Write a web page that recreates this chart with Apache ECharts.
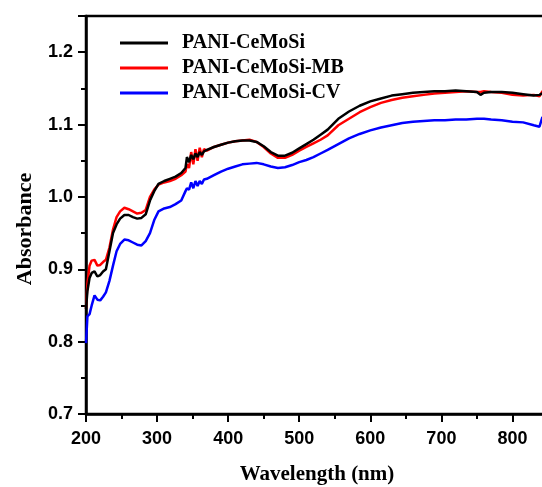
<!DOCTYPE html>
<html>
<head>
<meta charset="utf-8">
<script src="https://cdn.jsdelivr.net/npm/echarts@6/dist/echarts.min.js"></script>
<style>
html,body{margin:0;padding:0;background:#fff;}
#c{width:542px;height:487px;}
</style>
</head>
<body>
<div id="c"></div>
<script>
var seriesNames = ['PANI-CeMoSi', 'PANI-CeMoSi-MB', 'PANI-CeMoSi-CV'];
var seriesColors = ['#000000', '#ff0000', '#0000ff'];

var wavelengths = [200,202,205,208,212,216,220,224,228,233,238,243,248,254,260,266,272,278,284,290,296,302,310,318,326,334,340,342,345,348,351,354,357,360,363,366,370,380,390,400,410,420,430,440,450,460,470,480,490,500,510,520,530,540,555,570,585,600,615,630,645,660,675,690,705,720,735,750,755,760,770,785,800,815,830,838,842,850];

var absCeMoSi = [0.845,0.870,0.888,0.895,0.897,0.890,0.892,0.897,0.900,0.925,0.950,0.962,0.970,0.975,0.975,0.972,0.970,0.971,0.976,0.995,1.008,1.018,1.022,1.025,1.028,1.033,1.040,1.055,1.048,1.058,1.052,1.060,1.055,1.062,1.058,1.063,1.065,1.069,1.072,1.075,1.077,1.078,1.078,1.076,1.070,1.062,1.057,1.057,1.061,1.067,1.073,1.079,1.086,1.093,1.108,1.118,1.126,1.132,1.136,1.140,1.142,1.144,1.145,1.146,1.146,1.147,1.146,1.145,1.141,1.144,1.145,1.145,1.144,1.142,1.140,1.141,1.143,1.142];

var absMB = [0.846,0.880,0.905,0.912,0.913,0.905,0.906,0.910,0.913,0.930,0.955,0.972,0.980,0.985,0.983,0.980,0.977,0.978,0.982,1.000,1.010,1.017,1.020,1.022,1.025,1.030,1.035,1.045,1.040,1.062,1.045,1.066,1.050,1.068,1.055,1.066,1.064,1.069,1.072,1.075,1.077,1.078,1.079,1.076,1.069,1.060,1.054,1.054,1.058,1.064,1.069,1.074,1.079,1.085,1.099,1.108,1.117,1.124,1.130,1.134,1.137,1.139,1.141,1.143,1.144,1.145,1.146,1.145,1.145,1.146,1.145,1.144,1.141,1.140,1.141,1.139,1.146,1.145];

var absCV = [0.798,0.835,0.838,0.850,0.864,0.858,0.857,0.862,0.868,0.884,0.905,0.925,0.935,0.941,0.940,0.937,0.934,0.933,0.939,0.950,0.968,0.980,0.984,0.986,0.990,0.995,1.008,1.012,1.010,1.020,1.012,1.022,1.015,1.022,1.018,1.024,1.025,1.030,1.035,1.039,1.042,1.045,1.046,1.047,1.045,1.042,1.040,1.041,1.044,1.048,1.051,1.055,1.060,1.065,1.073,1.081,1.087,1.092,1.096,1.099,1.102,1.104,1.105,1.106,1.106,1.107,1.107,1.108,1.108,1.108,1.107,1.106,1.104,1.103,1.099,1.097,1.110,1.110];

var xTicks = [200,300,400,500,600,700,800];
var yTicks = [0.7,0.8,0.9,1.0,1.1,1.2];

function pairs(ys){ return wavelengths.map(function(w,i){ return [w, ys[i]]; }); }
var allData = [absCeMoSi, absMB, absCV];

var chart = echarts.init(document.getElementById('c'), null, {renderer:'canvas'});
var tickFont = {fontFamily:'"Liberation Sans", Arial, sans-serif', fontWeight:'bold', fontSize:18, color:'#000'};

chart.setOption({
  animation:false,
  backgroundColor:'#ffffff',
  grid:{left:86, top:16, right:-6, bottom:73, containLabel:false, outerBoundsMode:'none', show:true, borderColor:'#000', borderWidth:2.5, backgroundColor:'transparent'},
  legend:{
    show:true, orient:'vertical', left:115, top:28, itemWidth:48, itemHeight:14, itemGap:5,
    icon:'path://M0,6 L48,6 L48,9 L0,9 Z',
    textStyle:{fontFamily:'"Liberation Serif","Times New Roman",serif', fontWeight:'bold', fontSize:20, color:'#000', padding:[0,0,0,9]},
    data: seriesNames
  },
  xAxis:{
    type:'value', min:200, max:850, interval:100,
    axisLine:{show:true, onZero:false, lineStyle:{color:'#000', width:2.5}},
    axisTick:{show:true, inside:false, length:8, lineStyle:{color:'#000', width:2}},
    minorTick:{show:true, splitNumber:2, length:5, lineStyle:{color:'#000', width:2}},
    splitLine:{show:false},
    axisLabel:Object.assign({margin:16, showMaxLabel:false, formatter:function(v){ return xTicks.indexOf(v)>=0 ? String(v) : ''; }}, tickFont),
    name:'Wavelength (nm)', nameLocation:'middle', nameGap:50,
    nameTextStyle:{fontFamily:'"Liberation Serif","Times New Roman",serif', fontWeight:'bold', fontSize:21, color:'#000'}
  },
  yAxis:{
    type:'value', min:0.7, max:1.25, interval:0.1,
    axisLine:{show:true, onZero:false, lineStyle:{color:'#000', width:2.5}},
    axisTick:{show:true, inside:false, length:8, lineStyle:{color:'#000', width:2}},
    minorTick:{show:true, splitNumber:2, length:5, lineStyle:{color:'#000', width:2}},
    splitLine:{show:false},
    axisLabel:Object.assign({margin:13, showMaxLabel:false, formatter:function(v){
      for (var i=0;i<yTicks.length;i++){ if (Math.abs(v-yTicks[i])<1e-6) return yTicks[i].toFixed(1); }
      return '';
    }}, tickFont)
  },
  graphic:[{
    type:'text', x:25, y:229, rotation:Math.PI/2,
    style:{text:'Absorbance', fill:'#000', font:'bold 22px "Liberation Serif","Times New Roman",serif', textAlign:'center', textVerticalAlign:'middle'}
  }],
  series: seriesNames.map(function(n,i){
    return {
      name:n, type:'line', data:pairs(allData[i]), showSymbol:false, symbol:'none',
      lineStyle:{color:seriesColors[i], width:2.5}, itemStyle:{color:seriesColors[i]}, z: 3 - i
    };
  })
});
</script>
</body>
</html>
